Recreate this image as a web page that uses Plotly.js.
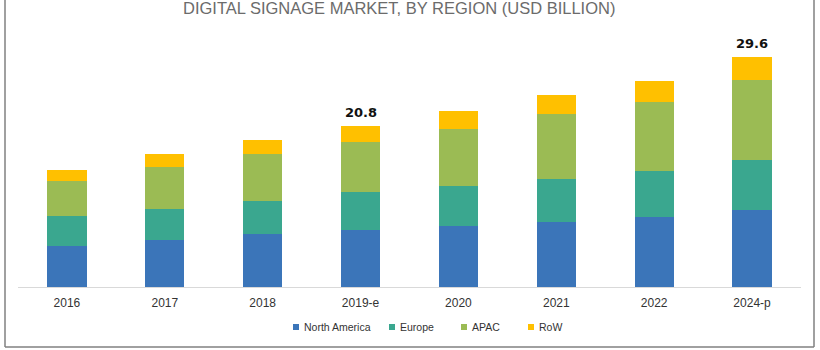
<!DOCTYPE html>
<html>
<head>
<meta charset="utf-8">
<script src="https://cdn.plot.ly/plotly-3.0.1.min.js"></script>
<style>html,body{margin:0;padding:0;background:#fff;}#chart{width:820px;height:350px;}</style>
</head>
<body>
<div id="chart"></div>
<script>
const years = ["2016", "2017", "2018", "2019-e", "2020", "2021", "2022", "2024-p"];
const northAmerica = [5.3, 6.0, 6.8, 7.3, 7.8, 8.4, 9.0, 9.9];
const europe = [3.9, 4.1, 4.3, 4.9, 5.2, 5.5, 5.9, 6.4];
const apac = [4.5, 5.3, 6.1, 6.5, 7.4, 8.4, 9.0, 10.4];
const row = [1.4, 1.8, 1.8, 2.1, 2.3, 2.4, 2.7, 2.9];
const labelYears = ["2019-e", "2024-p"];
const labelTexts = ["20.8", "29.6"];
const labelTotals = [20.8, 29.6];
const seriesNames = ["North America", "Europe", "APAC", "RoW"];
const seriesColors = ["#3b75b9", "#3aa78f", "#9bbb54", "#ffc000"];
const chartTitle = "DIGITAL SIGNAGE MARKET, BY REGION (USD BILLION)";

// layout constants (pixels)
const W = 820, H = 350;
const M = {l: 18, r: 19, t: 20, b: 63};
const plotW = W - M.l - M.r, plotH = H - M.t - M.b;
const px = v => (v - M.l) / plotW;
const py = v => (H - M.b - v) / plotH;
const legendMarkerX = [296, 392, 464, 531];
const legendY = 327;
const narrowFont = "Liberation Sans Narrow, Arial Narrow, Arial, sans-serif";

const seriesValues = [northAmerica, europe, apac, row];
const traces = seriesValues.map((vals, i) => ({
  type: "bar",
  name: seriesNames[i],
  x: years,
  y: vals,
  marker: {color: seriesColors[i], line: {width: 0}},
  hoverinfo: "x+y+name"
}));

const annotations = labelYears.map((yr, i) => ({
  x: yr, y: labelTotals[i], xref: "x", yref: "y",
  text: labelTexts[i], showarrow: false,
  yanchor: "bottom", yshift: 4,
  font: {family: "DejaVu Sans, Arial, sans-serif", size: 13, color: "#111111", weight: "bold"}
}));
annotations.push({
  xref: "paper", yref: "paper", x: px(399), y: py(8), xanchor: "center", yanchor: "middle",
  text: chartTitle, showarrow: false,
  font: {family: narrowFont, size: 16.5, color: "#6b6b6b"}
});

const frameColor = "#808080";
const shapes = [
  {type: "line", xref: "paper", yref: "paper", x0: px(5), x1: px(5), y0: py(347), y1: py(-5), line: {color: frameColor, width: 1.5}},
  {type: "line", xref: "paper", yref: "paper", x0: px(814), x1: px(814), y0: py(347), y1: py(-5), line: {color: frameColor, width: 1.5}},
  {type: "line", xref: "paper", yref: "paper", x0: px(5), x1: px(814), y0: py(347), y1: py(347), line: {color: frameColor, width: 1.5}}
];

// custom legend built from the series names/colours
seriesNames.forEach((name, i) => {
  const cx = legendMarkerX[i];
  shapes.push({type: "rect", xref: "paper", yref: "paper",
    x0: px(cx - 3), x1: px(cx + 3), y0: py(legendY + 3), y1: py(legendY - 3),
    fillcolor: seriesColors[i], line: {width: 0}});
  annotations.push({xref: "paper", yref: "paper", x: px(cx + 6), y: py(legendY),
    xanchor: "left", yanchor: "middle", text: name, showarrow: false,
    font: {family: narrowFont, size: 10.5, color: "#333333"}});
});

const layout = {
  width: W, height: H,
  margin: {l: M.l, r: M.r, t: M.t, b: M.b, pad: 0},
  paper_bgcolor: "#ffffff", plot_bgcolor: "#ffffff",
  barmode: "stack",
  bargap: 0.6,
  showlegend: false,
  xaxis: {
    type: "category", showgrid: false, zeroline: false,
    showline: true, linecolor: "#d9d9d9", linewidth: 1,
    ticks: "", tickfont: {family: narrowFont, size: 12, color: "#333333"},
    ticklabelstandoff: 5
  },
  yaxis: {
    range: [0, 34.4], visible: false, showgrid: false, zeroline: false
  },
  annotations: annotations,
  shapes: shapes
};

Plotly.newPlot("chart", traces, layout, {displayModeBar: false, staticPlot: true});
</script>
</body>
</html>
